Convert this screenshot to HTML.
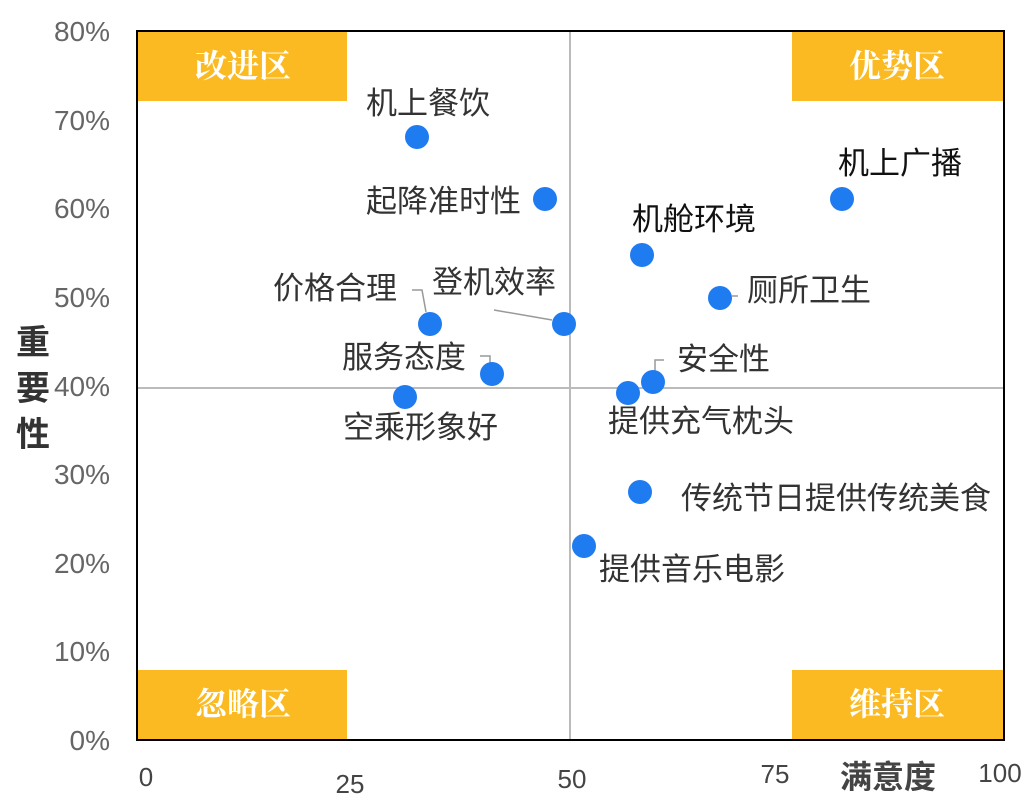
<!DOCTYPE html>
<html><head><meta charset="utf-8"><style>
body{margin:0;background:#fff;width:1033px;height:800px;overflow:hidden;position:relative;font-family:"Liberation Sans","Noto Sans CJK SC",sans-serif}
</style></head><body>
<svg width="1033" height="800" style="position:absolute;left:0;top:0" font-family="Liberation Sans, Noto Sans CJK SC, sans-serif">
<line x1="570" y1="31" x2="570" y2="740" stroke="#bbb" stroke-width="2"/>
<line x1="137" y1="388" x2="1004" y2="388" stroke="#bbb" stroke-width="2"/>
<rect x="137" y="31" width="867" height="709" fill="none" stroke="#000" stroke-width="2"/>
<g fill="#FBBA22">
<rect x="138" y="32" width="209" height="69"/>
<rect x="792" y="32" width="211" height="69"/>
<rect x="138" y="670" width="209" height="69"/>
<rect x="792" y="670" width="211" height="69"/>
</g>
<g fill="#fff" font-weight="bold" font-size="32" text-anchor="middle" font-family="Noto Serif CJK SC, serif">
<text x="243" y="77">改进区</text><text x="897" y="77">优势区</text>
<text x="243" y="715">忽略区</text><text x="897" y="715">维持区</text>
</g>
<g fill="#666" font-size="28" text-anchor="end">
<text x="110" y="41">80%</text><text x="110" y="130">70%</text><text x="110" y="218">60%</text>
<text x="110" y="307">50%</text><text x="110" y="396">40%</text><text x="110" y="484">30%</text>
<text x="110" y="573">20%</text><text x="110" y="661">10%</text><text x="110" y="750">0%</text>
</g>
<g fill="#444" font-size="26" text-anchor="middle">
<text x="146" y="786">0</text><text x="350" y="793">25</text><text x="572" y="788">50</text>
<text x="775" y="783">75</text><text x="1000" y="782">100</text>
</g>
<text x="888" y="788" font-size="32" font-weight="bold" fill="#444" text-anchor="middle">满意度</text>
<g font-size="34" font-weight="bold" fill="#333" text-anchor="middle">
<text x="33" y="354">重</text><text x="33" y="400">要</text><text x="33" y="446">性</text>
</g>
<g stroke="#999" stroke-width="1.5" fill="none">
<polyline points="412,290 422,290 426,312"/>
<polyline points="494,310 552,320"/>
<polyline points="480,356 490,356 490,366"/>
<polyline points="655,372 655,360 664,360"/>
<polyline points="732,296 738,296"/>
</g>
<g fill="#1f7bf0">
<circle cx="417" cy="137" r="12"/><circle cx="545" cy="199" r="12"/>
<circle cx="642" cy="255" r="12"/><circle cx="842" cy="199" r="12"/>
<circle cx="720" cy="298" r="12"/><circle cx="430" cy="324" r="12"/>
<circle cx="564" cy="324" r="12"/><circle cx="492" cy="374" r="12"/>
<circle cx="405" cy="397" r="12"/><circle cx="628" cy="393" r="12"/>
<circle cx="653" cy="382" r="12"/><circle cx="640" cy="492" r="12"/>
<circle cx="584" cy="546" r="12"/>
</g>
<g fill="#333" font-size="31">
<text x="366" y="114">机上餐饮</text>
<text x="366" y="212">起降准时性</text>
<text x="632" y="230" fill="#111">机舱环境</text>
<text x="838" y="174" fill="#111">机上广播</text>
<text x="747" y="301">厕所卫生</text>
<text x="273" y="299">价格合理</text>
<text x="432" y="293">登机效率</text>
<text x="342" y="368">服务态度</text>
<text x="343" y="438">空乘形象好</text>
<text x="677" y="370">安全性</text>
<text x="608" y="432">提供充气枕头</text>
<text x="681" y="509">传统节日提供传统美食</text>
<text x="599" y="580">提供音乐电影</text>
</g>
</svg>
</body></html>
